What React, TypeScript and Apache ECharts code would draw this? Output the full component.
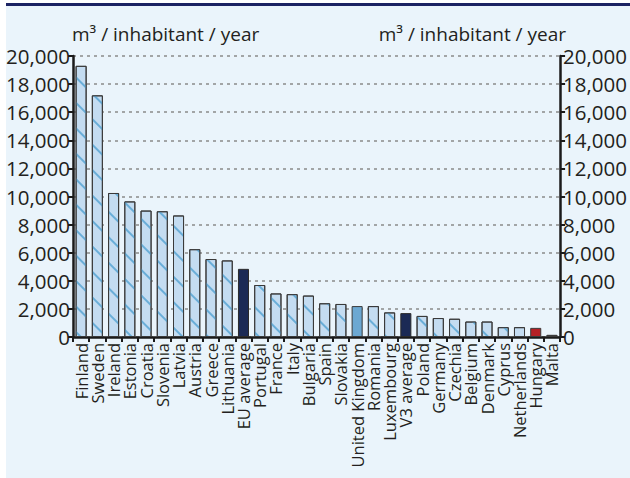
import React, { useEffect, useRef } from "react";
import * as echarts from "echarts";

const categories = [
  "Finland", "Sweden", "Ireland", "Estonia", "Croatia", "Slovenia", "Latvia", "Austria",
  "Greece", "Lithuania", "EU average", "Portugal", "France", "Italy", "Bulgaria", "Spain",
  "Slovakia", "United Kingdom", "Romania", "Luxembourg", "V3 average", "Poland", "Germany",
  "Czechia", "Belgium", "Denmark", "Cyprus", "Netherlands", "Hungary", "Malta",
];
const values = [
  19300, 17200, 10250, 9650, 9000, 8950, 8650, 6250,
  5550, 5450, 4850, 3700, 3100, 3050, 2950, 2400,
  2350, 2200, 2200, 1750, 1700, 1500, 1350,
  1300, 1100, 1100, 700, 700, 650, 150,
];
const averageCategories = ["EU average", "V3 average"];
const ukCategory = "United Kingdom";
const hungaryCategory = "Hungary";
const axisName = "m³ / inhabitant / year";
const yMin = 0;
const yMax = 20000;
const yInterval = 2000;

const FONT = "'Open Sans', 'Noto Sans', sans-serif";
const TEXT = "#231F20";

export default function App() {
  const ref = useRef<HTMLDivElement>(null);
  useEffect(() => {
    document.body.style.margin = "0";
    const chart = echarts.init(ref.current!, null, { renderer: "svg" });
    const hatch = {
      symbol: "rect",
      symbolSize: 1,
      color: "#6AAED8",
      dashArrayX: [1, 0],
      dashArrayY: [2, 16],
      rotation: Math.PI / 4,
    };
    const data = categories.map((c, i) => {
      let itemStyle: any;
      if (averageCategories.includes(c)) {
        itemStyle = { color: "#1B2A55", borderColor: "#2a2a2a", borderWidth: 1 };
      } else if (c === ukCategory) {
        itemStyle = { color: "#6CA8D2", borderColor: "#3a3a3a", borderWidth: 1 };
      } else if (c === hungaryCategory) {
        itemStyle = { color: "#B52025", borderColor: "#3a3a3a", borderWidth: 1 };
      } else {
        itemStyle = { color: "#C4DCF1", borderColor: "#3a3a3a", borderWidth: 1, decal: hatch };
      }
      return { value: values[i], itemStyle };
    });
    const yLabel = {
      fontFamily: FONT,
      fontSize: 20.5,
      color: TEXT,
      margin: 3,
      formatter: (v: number) => v.toLocaleString("en-US"),
    };
    const axisLine = { show: true, lineStyle: { color: "#1a1a1a", width: 2.5 } };
    const axisTick = { show: true, length: 5, lineStyle: { color: "#1a1a1a", width: 2 } };
    chart.setOption({
      animation: false,
      backgroundColor: "transparent",
      graphic: [
        { type: "rect", shape: { x: 6, y: 3, width: 630, height: 480 }, style: { fill: "#EAF4FB" }, z: -10 },
        { type: "rect", shape: { x: 6, y: 3, width: 630, height: 3 }, style: { fill: "#1B2363" }, z: -9 },
        {
          type: "text", left: 72, top: 24,
          style: { text: axisName, fontFamily: FONT, fontSize: 19, fill: TEXT },
        },
        {
          type: "text", right: 64, top: 24,
          style: { text: axisName, fontFamily: FONT, fontSize: 19, fill: TEXT },
        },
      ],
      grid: { left: 73, right: 64, top: 56, bottom: 141, containLabel: false },
      xAxis: {
        type: "category",
        data: categories,
        axisLine: { show: true, lineStyle: { color: "#1a1a1a", width: 2.5 } },
        axisTick: { show: true, length: 5, alignWithLabel: false, interval: 0, lineStyle: { color: "#1a1a1a", width: 2 } },
        axisLabel: { interval: 0, rotate: 90, fontFamily: FONT, fontSize: 16.5, color: TEXT, margin: 6 },
      },
      yAxis: [
        {
          type: "value", min: yMin, max: yMax, interval: yInterval, position: "left",
          axisLine, axisTick, axisLabel: yLabel,
          splitLine: { show: true, lineStyle: { color: "#8a8a8a", width: 1.5, type: [3, 4] } },
        },
        {
          type: "value", min: yMin, max: yMax, interval: yInterval, position: "right",
          axisLine, axisTick, axisLabel: yLabel, splitLine: { show: false },
        },
      ],
      series: [
        {
          type: "bar",
          data,
          barCategoryGap: "32%",
          yAxisIndex: 0,
        },
      ],
    });
    return () => chart.dispose();
  }, []);
  return <div ref={ref} style={{ width: 630, height: 478, position: "absolute", left: 0, top: 0 }} />;
}
